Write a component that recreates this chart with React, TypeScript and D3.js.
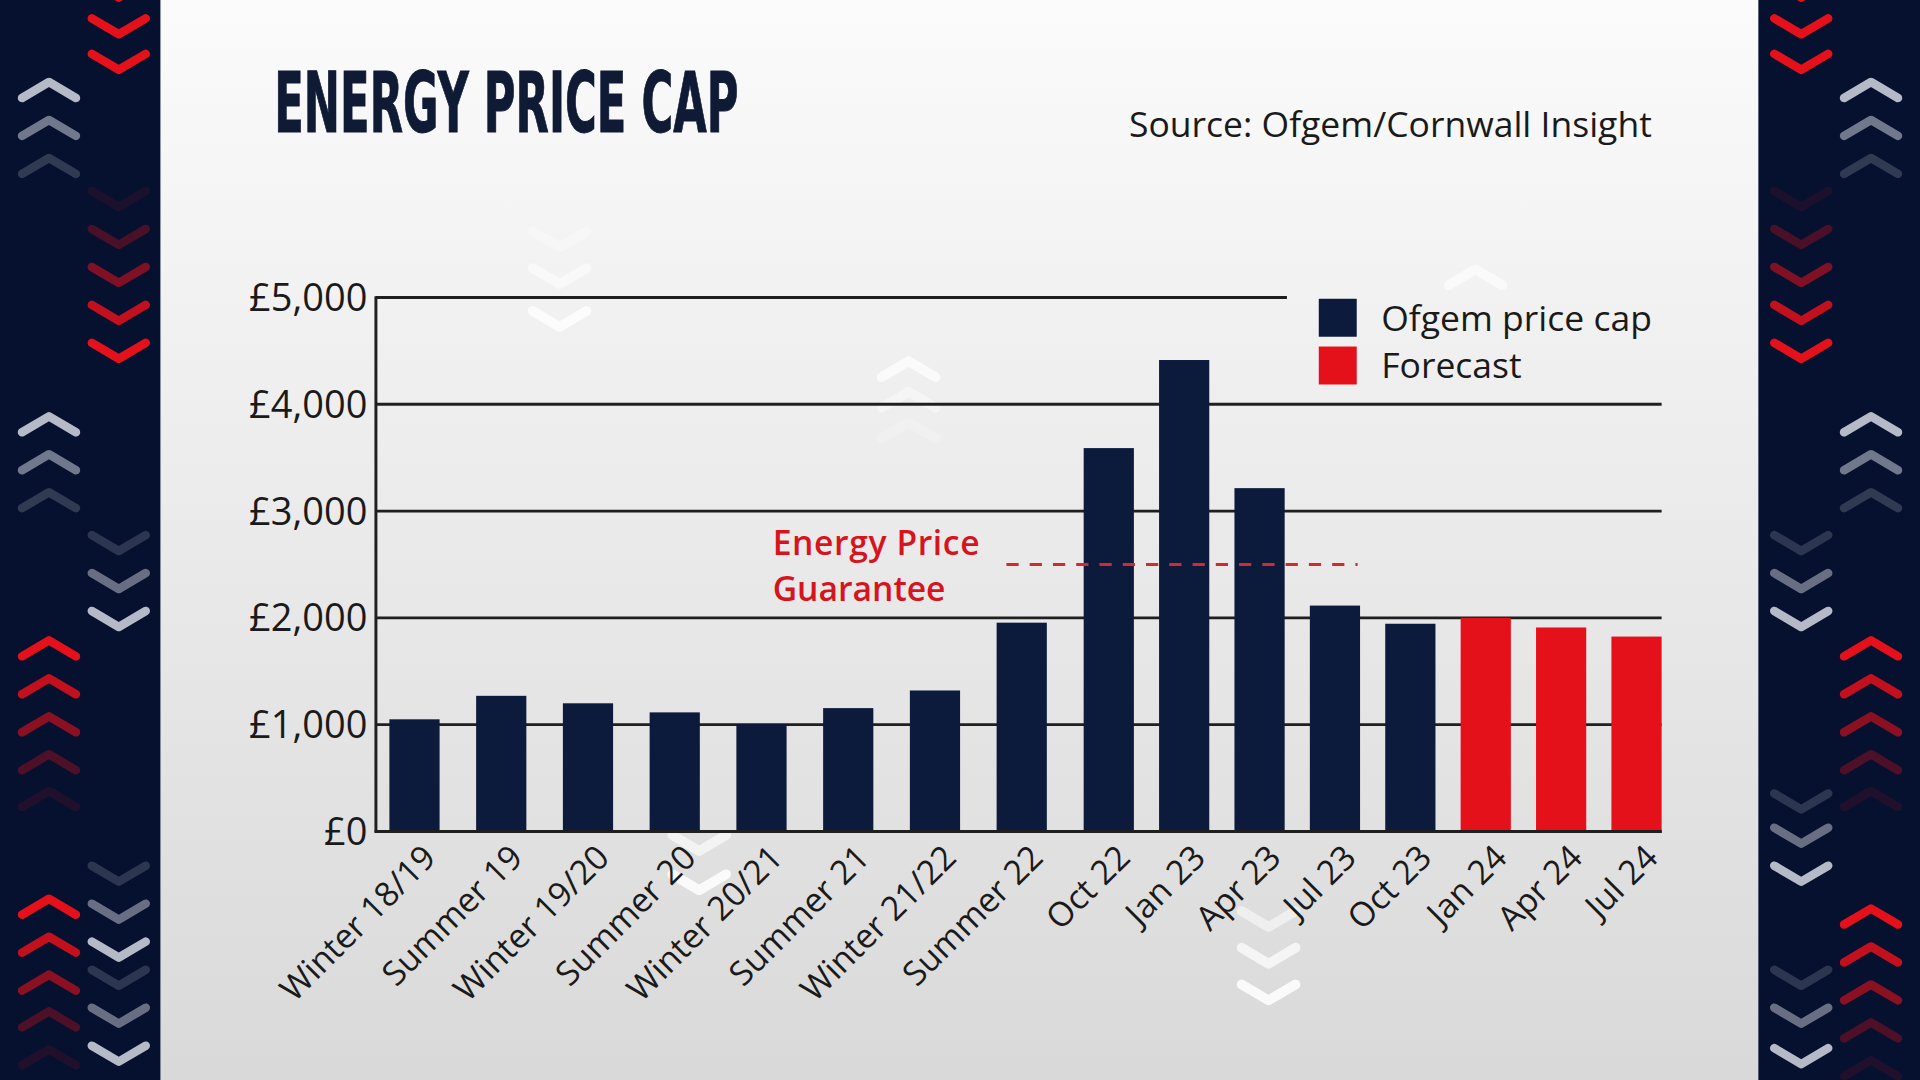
import React from 'react';
import * as d3 from 'd3';

// Ofgem caps: semi-annual first, then quarterly
const semiCategories = ['Winter 18/19', 'Summer 19', 'Winter 19/20', 'Summer 20', 'Winter 20/21', 'Summer 21', 'Winter 21/22', 'Summer 22'];
const quarterCategories = ['Oct 22', 'Jan 23', 'Apr 23', 'Jul 23', 'Oct 23', 'Jan 24', 'Apr 24', 'Jul 24'];
const capValues = [1050, 1270, 1200, 1115, 1005, 1155, 1320, 1955, 3590, 4415, 3215, 2115, 1945, 2000, 1910, 1825];
const forecastCategories = ['Jan 24', 'Apr 24', 'Jul 24'];
const yTicks = [0, 1000, 2000, 3000, 4000, 5000];
const guaranteeLevel = 2500;
const guaranteeSpan = ['Summer 22', 'Jul 23'];
const guaranteeLines = ['Energy Price', 'Guarantee'];
const legendItems = ['Ofgem price cap', 'Forecast'];

const NAVY = '#0c1a3b';
const RED = '#e5111a';
const PANEL = '#06112f';

// side panel chevrons: [x, y, direction, colour, opacity]
type Chev = [number, number, 'up' | 'down', string, number];
const W = '#c9cdd8';
const panelChevrons: Chev[] = [
  [97, -8, 'down', RED, 1], [97, 22, 'down', RED, 1], [97, 51, 'down', RED, 1],
  [40, 73, 'up', W, 0.9], [40, 104, 'up', W, 0.55], [40, 135, 'up', W, 0.22],
  [97, 163, 'down', RED, 0.1], [97, 194, 'down', RED, 0.3], [97, 225, 'down', RED, 0.55], [97, 256, 'down', RED, 0.85], [97, 287, 'down', RED, 1],
  [40, 346, 'up', W, 0.9], [40, 377, 'up', W, 0.55], [40, 408, 'up', W, 0.22],
  [97, 444, 'down', W, 0.2], [97, 475, 'down', W, 0.5], [97, 506, 'down', W, 0.9],
  [40, 529, 'up', RED, 1], [40, 560, 'up', RED, 0.85], [40, 591, 'up', RED, 0.6], [40, 622, 'up', RED, 0.32], [40, 652, 'up', RED, 0.12],
  [97, 714, 'down', W, 0.2], [97, 745, 'down', W, 0.5], [97, 776, 'down', W, 0.9],
  [97, 799, 'down', W, 0.2], [97, 830, 'down', W, 0.5], [97, 861, 'down', W, 0.9],
  [40, 740, 'up', RED, 1], [40, 771, 'up', RED, 0.85], [40, 802, 'up', RED, 0.6], [40, 832, 'up', RED, 0.32], [40, 863, 'up', RED, 0.12],

  [1471, -8, 'down', RED, 1], [1471, 22, 'down', RED, 1], [1471, 51, 'down', RED, 1],
  [1528, 73, 'up', W, 0.9], [1528, 104, 'up', W, 0.55], [1528, 135, 'up', W, 0.22],
  [1471, 163, 'down', RED, 0.1], [1471, 194, 'down', RED, 0.3], [1471, 225, 'down', RED, 0.55], [1471, 256, 'down', RED, 0.85], [1471, 287, 'down', RED, 1],
  [1528, 346, 'up', W, 0.9], [1528, 377, 'up', W, 0.55], [1528, 408, 'up', W, 0.22],
  [1471, 444, 'down', W, 0.2], [1471, 475, 'down', W, 0.5], [1471, 506, 'down', W, 0.9],
  [1528, 529, 'up', RED, 1], [1528, 560, 'up', RED, 0.85], [1528, 591, 'up', RED, 0.6], [1528, 622, 'up', RED, 0.32], [1528, 652, 'up', RED, 0.12],
  [1471, 655, 'down', W, 0.2], [1471, 683, 'down', W, 0.5], [1471, 714, 'down', W, 0.9],
  [1528, 748, 'up', RED, 1], [1528, 779, 'up', RED, 0.85], [1528, 810, 'up', RED, 0.6], [1528, 841, 'up', RED, 0.32], [1528, 872, 'up', RED, 0.12],
  [1471, 799, 'down', W, 0.2], [1471, 830, 'down', W, 0.5], [1471, 863, 'down', W, 0.9],
];

// faint watermark chevrons behind the chart
const bgChevrons: Chev[] = [
  [457, 196, 'down', '#fff', 0.25], [457, 226, 'down', '#fff', 0.5], [457, 261, 'down', '#fff', 0.75],
  [742, 301, 'up', '#fff', 0.7], [742, 326, 'up', '#fff', 0.4], [742, 351, 'up', '#fff', 0.2],
  [1205, 226, 'up', '#fff', 0.6],
  [571, 689, 'down', '#fff', 0.6], [571, 721, 'down', '#fff', 0.85],
  [1036, 751, 'down', '#fff', 0.5], [1036, 781, 'down', '#fff', 0.7], [1036, 811, 'down', '#fff', 0.85],
];

const chevPath = (dir: 'up' | 'down') =>
  dir === 'up' ? 'M-22,7 L0,-6 L22,7' : 'M-22,-7 L0,6 L22,-7';

export default function App() {
  const categories = [...semiCategories, ...quarterCategories];
  const bars = categories.map((c, i) => ({ cat: c, value: capValues[i], forecast: forecastCategories.includes(c) }));

  const xSemi = d3.scaleBand<string>().domain(semiCategories).range([318, 855]).paddingInner(0.42).paddingOuter(0);
  const xQuarter = d3.scaleBand<string>().domain(quarterCategories).range([885, 1357]).paddingInner(0.334).paddingOuter(0);
  const x = (c: string) => (semiCategories.includes(c) ? xSemi(c)! : xQuarter(c)!);
  const bw = 41;

  const y = d3.scaleLinear().domain([0, 5000]).range([679, 243]);
  const fmt = (v: number) => '£' + d3.format(',')(v);

  const gx0 = x(guaranteeSpan[0]) + 8;
  const gx1 = x(guaranteeSpan[1]) + bw - 2;

  return (
    <div style={{ position: 'absolute', left: 0, top: 0, width: 1920, height: 1080 }}>
      <svg width={1920} height={1080} viewBox="0 0 1568 882" style={{ display: 'block' }}>
        <defs>
          <linearGradient id="bg" x1="0" y1="0" x2="0" y2="1">
            <stop offset="0%" stopColor="#fbfbfb" />
            <stop offset="100%" stopColor="#d9d9d9" />
          </linearGradient>
        </defs>
        <rect x={0} y={0} width={1568} height={882} fill="url(#bg)" />

        {bgChevrons.map(([cx, cy, dir, col, op], i) => (
          <path key={'b' + i} d={chevPath(dir)} transform={`translate(${cx},${cy})`} fill="none"
            stroke={col} strokeOpacity={op} strokeWidth={8} strokeLinecap="round" strokeLinejoin="round" />
        ))}

        {/* side panels */}
        <rect x={0} y={0} width={131} height={882} fill={PANEL} />
        <rect x={1436} y={0} width={132} height={882} fill={PANEL} />
        {panelChevrons.map(([cx, cy, dir, col, op], i) => (
          <path key={'p' + i} d={chevPath(dir)} transform={`translate(${cx},${cy})`} fill="none"
            stroke={col} strokeOpacity={op} strokeWidth={7} strokeLinecap="round" strokeLinejoin="round" />
        ))}

        {/* title and source */}
        <text x={224} y={108} fontFamily="'Liberation Sans Narrow', 'DejaVu Sans Condensed', sans-serif" fontWeight={700}
          fontSize={69} fill="#0f1a35" stroke="#0f1a35" strokeWidth={0.8} textLength={379} lengthAdjust="spacingAndGlyphs">ENERGY PRICE CAP</text>
        <text x={1349} y={112} textAnchor="end" fontFamily="'Open Sans', sans-serif" fontSize={29} fill="#1a1a1a">
          Source: Ofgem/Cornwall Insight
        </text>

        {/* gridlines */}
        {yTicks.map((t) => (
          <line key={'g' + t} x1={307} x2={t === 5000 ? 1051 : 1357} y1={y(t)} y2={y(t)} stroke="#1f1f1f" strokeWidth={2.4} />
        ))}
        <line x1={307} x2={307} y1={y(5000) - 1} y2={y(0) + 1} stroke="#1f1f1f" strokeWidth={2.4} />

        {/* y tick labels */}
        {yTicks.map((t) => (
          <text key={'t' + t} x={300} y={y(t) + 11} textAnchor="end" fontFamily="'Open Sans', sans-serif"
            fontSize={31} fill="#1a1a1a">{fmt(t)}</text>
        ))}

        {/* bars */}
        {bars.map((b) => (
          <rect key={b.cat} x={x(b.cat)} y={y(b.value)} width={bw} height={y(0) - y(b.value)}
            fill={b.forecast ? RED : NAVY} />
        ))}
        <line x1={306} x2={1357} y1={y(0)} y2={y(0)} stroke="#1f1f1f" strokeWidth={2.4} />

        {/* x labels */}
        {bars.map((b) => {
          const px = x(b.cat) + bw / 2 + 19;
          const py = y(0) + 23;
          return (
            <text key={'l' + b.cat} x={px} y={py} transform={`rotate(-45, ${px}, ${py})`} textAnchor="end"
              fontFamily="'Open Sans', sans-serif" fontSize={27.5} fill="#1a1a1a">{b.cat}</text>
          );
        })}

        {/* Energy Price Guarantee */}
        <line x1={gx0} x2={gx1} y1={y(guaranteeLevel)} y2={y(guaranteeLevel)} stroke="#d42a2f"
          strokeWidth={2.5} strokeDasharray="10 9" />
        {guaranteeLines.map((t, i) => (
          <text key={t} x={631} y={453 + i * 38} fontFamily="'Open Sans', sans-serif" fontWeight={600}
            fontSize={27.5} fill="#d7141e" textLength={i === 0 ? 169 : undefined}>{t}</text>
        ))}

        {/* legend */}
        {legendItems.map((l, i) => (
          <g key={l} transform={`translate(1077, ${244 + i * 39})`}>
            <rect x={0} y={0} width={31} height={31} fill={i === 0 ? NAVY : RED} />
            <text x={51} y={26} fontFamily="'Open Sans', sans-serif" fontSize={29} fill="#1a1a1a">{l}</text>
          </g>
        ))}
      </svg>
    </div>
  );
}
